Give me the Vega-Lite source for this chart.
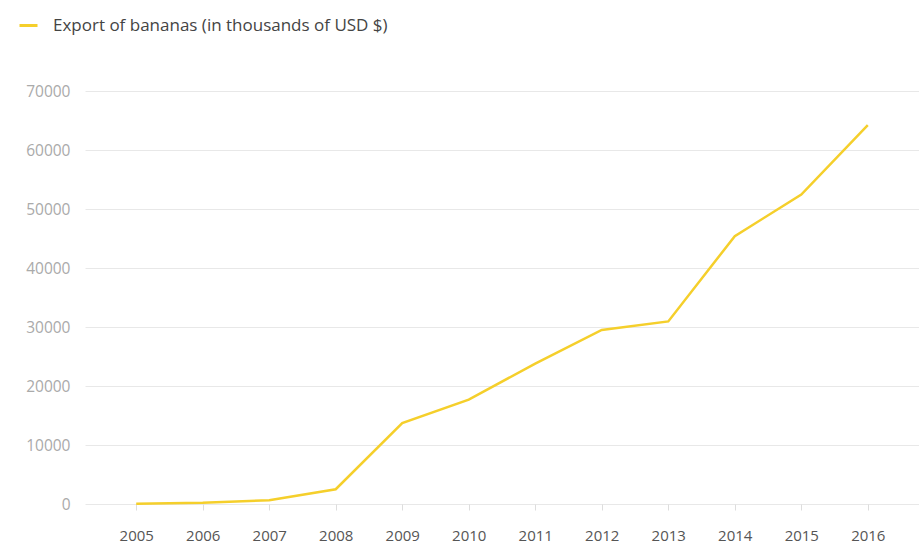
{
  "$schema": "https://vega.github.io/schema/vega-lite/v6.json",
  "width": 834,
  "height": 413,
  "autosize": {"type": "none"},
  "padding": {"left": 85, "top": 91, "right": 0, "bottom": 39},
  "config": {
    "font": "Open Sans",
    "view": {"stroke": null}
  },
  "data": {
    "values": [
      {"year": "2005", "value": 50},
      {"year": "2006", "value": 200},
      {"year": "2007", "value": 650},
      {"year": "2008", "value": 2500},
      {"year": "2009", "value": 13700},
      {"year": "2010", "value": 17700},
      {"year": "2011", "value": 23800},
      {"year": "2012", "value": 29500},
      {"year": "2013", "value": 30950},
      {"year": "2014", "value": 45400},
      {"year": "2015", "value": 52450},
      {"year": "2016", "value": 64200}
    ]
  },
  "mark": {"type": "line", "strokeWidth": 2.5, "interpolate": "linear"},
  "encoding": {
    "x": {
      "field": "year",
      "type": "ordinal",
      "scale": {"type": "point", "padding": 0.77},
      "axis": {
        "title": null,
        "labelAngle": 0,
        "domain": false,
        "grid": false,
        "ticks": true,
        "tickSize": 6,
        "tickColor": "#dddddd",
        "labelColor": "#555555",
        "labelFontSize": 15,
        "labelPadding": 18
      }
    },
    "y": {
      "field": "value",
      "type": "quantitative",
      "scale": {"domain": [0, 70000], "nice": false},
      "axis": {
        "title": null,
        "values": [0, 10000, 20000, 30000, 40000, 50000, 60000, 70000],
        "format": "d",
        "domain": false,
        "ticks": false,
        "grid": true,
        "gridColor": "#e8e8e8",
        "gridWidth": 1,
        "labelColor": "#aaaaaa",
        "labelFontSize": 15.5,
        "labelPadding": 15
      }
    },
    "color": {
      "datum": "Export of bananas (in thousands of USD $)",
      "scale": {"range": ["#F5CF2B"]},
      "legend": {
        "title": null,
        "orient": "none",
        "legendX": -67,
        "legendY": -76,
        "symbolType": "stroke",
        "symbolSize": 324,
        "symbolStrokeWidth": 3,
        "labelFontSize": 17,
        "labelColor": "#444444",
        "labelOffset": 14,
        "labelLimit": 0
      }
    }
  }
}
